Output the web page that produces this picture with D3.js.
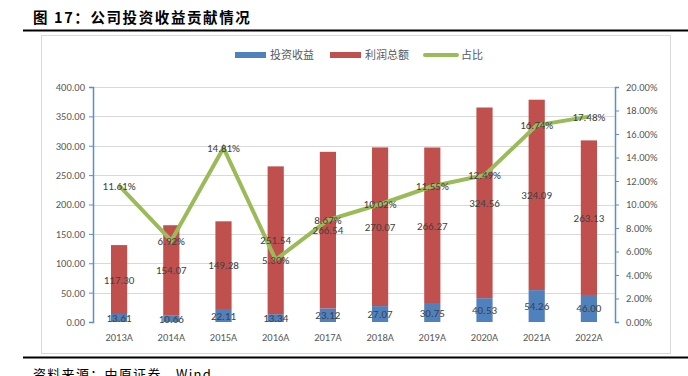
<!DOCTYPE html>
<html><head><meta charset="utf-8">
<script src="https://cdn.jsdelivr.net/npm/d3@7"></script>
<style>body{margin:0;background:#fff;}svg{display:block;font-family:"Noto Sans CJK SC","Microsoft YaHei",sans-serif;}</style>
</head><body><svg id="c" width="688" height="376"></svg>
<script>
const categories=["2013A","2014A","2015A","2016A","2017A","2018A","2019A","2020A","2021A","2022A"];
const investIncome=[13.61,10.66,22.11,13.34,23.12,27.07,30.75,40.53,54.26,46.00];
const totalProfit=[117.30,154.07,149.28,251.54,266.54,270.07,266.27,324.56,324.09,263.13];
const ratio=[11.61,6.92,14.81,5.30,8.67,10.02,11.55,12.49,16.74,17.48];
const leftTicks=[0,50,100,150,200,250,300,350,400];
const rightTicks=[0,2,4,6,8,10,12,14,16,18,20];
const seriesNames=["投资收益","利润总额","占比"];

const svg=d3.select("#c");
const blue="#4F81BD",red="#C0504D",green="#9BBB59",axisC="#5B8FCB",txt="#595959",lab="#404040";
const L=93,R=615,T=87,B=322;

// title & rules
svg.append("text").attr("x",33).attr("y",23).attr("font-size",14.5).attr("font-weight","bold").attr("letter-spacing",1.6).attr("fill","#000").text("图 17：公司投资收益贡献情况");
svg.append("line").attr("x1",23).attr("x2",688).attr("y1",30.5).attr("y2",30.5).attr("stroke","#000").attr("stroke-width",2);
svg.append("rect").attr("x",41.5).attr("y",35.5).attr("width",629).attr("height",318).attr("fill","none").attr("stroke","#D9D9D9");
svg.append("line").attr("x1",23).attr("x2",688).attr("y1",357.5).attr("y2",357.5).attr("stroke","#000").attr("stroke-width",2);
svg.append("text").attr("x",33).attr("y",379).attr("font-size",13).attr("letter-spacing",1.3).attr("fill","#000").text("资料来源：中原证券，Wind");

const x=d3.scaleBand().domain(categories).range([L,R]).paddingInner(0.69).paddingOuter(0.345);
const y=d3.scaleLinear().domain([0,400]).range([B,T]);
const y2=d3.scaleLinear().domain([0,20]).range([B,T]);

// grid
svg.append("g").selectAll("line").data(leftTicks.slice(1)).join("line")
 .attr("x1",L).attr("x2",R).attr("y1",d=>Math.round(y(d))+0.5).attr("y2",d=>Math.round(y(d))+0.5).attr("stroke","#D9D9D9");

// bars
const bw=x.bandwidth();
svg.append("g").selectAll("rect").data(categories).join("rect")
 .attr("x",d=>x(d)).attr("width",bw)
 .attr("y",(d,i)=>y(investIncome[i])).attr("height",(d,i)=>B-y(investIncome[i])).attr("fill",blue);
svg.append("g").selectAll("rect").data(categories).join("rect")
 .attr("x",d=>x(d)).attr("width",bw)
 .attr("y",(d,i)=>y(investIncome[i]+totalProfit[i])).attr("height",(d,i)=>y(investIncome[i])-y(investIncome[i]+totalProfit[i])).attr("fill",red);

// axes
const lf="Calibri,Carlito,'Liberation Sans',sans-serif";
const ax=svg.append("g").attr("transform",`translate(${L},0)`).call(d3.axisLeft(y).tickValues(leftTicks).tickSize(4).tickFormat(d3.format(".2f")));
const ax2=svg.append("g").attr("transform",`translate(${R},0)`).call(d3.axisRight(y2).tickValues(rightTicks).tickSize(4).tickFormat(d=>d.toFixed(2)+"%"));
[ax,ax2].forEach(a=>{a.select(".domain").attr("stroke",axisC).attr("stroke-width",1.5);a.selectAll(".tick line").attr("stroke",axisC);a.selectAll("text").attr("fill",txt).attr("font-size",10.5).attr("font-family",lf);});
ax.selectAll("text").attr("x",-8);
ax2.selectAll("text").attr("x",11);
const xa=svg.append("g").attr("transform",`translate(0,${B})`).call(d3.axisBottom(x).tickSize(0));
xa.select(".domain").remove();
xa.selectAll("text").attr("fill",txt).attr("font-size",10.5).attr("dy",0).attr("y",19).attr("font-family",lf);

// line
const line=d3.line().x((d,i)=>x(categories[i])+bw/2).y(d=>y2(d));
svg.append("path").datum(ratio).attr("d",line).attr("fill","none").attr("stroke",green).attr("stroke-width",4).attr("stroke-linejoin","miter");

// labels
const lg=svg.append("g").attr("font-size",11).attr("fill",lab).attr("text-anchor","middle").attr("font-family",lf);
categories.forEach((c,i)=>{
 const cx=x(c)+bw/2;
 lg.append("text").attr("x",cx).attr("y",(y(0)+y(investIncome[i]))/2+4).text(investIncome[i].toFixed(2));
 lg.append("text").attr("x",cx).attr("y",(y(investIncome[i])+y(investIncome[i]+totalProfit[i]))/2+4).text(totalProfit[i].toFixed(2));
 lg.append("text").attr("x",cx).attr("y",y2(ratio[i])+4).text(ratio[i].toFixed(2)+"%");
});

// legend
const leg=svg.append("g").attr("font-size",11).attr("fill",txt);
leg.append("rect").attr("x",235).attr("y",52).attr("width",31).attr("height",6).attr("fill",blue);
leg.append("text").attr("x",270).attr("y",59).text(seriesNames[0]);
leg.append("rect").attr("x",330).attr("y",52).attr("width",31).attr("height",6).attr("fill",red);
leg.append("text").attr("x",365).attr("y",59).text(seriesNames[1]);
leg.append("line").attr("x1",425).attr("x2",457).attr("y1",55).attr("y2",55).attr("stroke",green).attr("stroke-width",4).attr("stroke-linecap","round");
leg.append("text").attr("x",461).attr("y",59).text(seriesNames[2]);
</script></body></html>
